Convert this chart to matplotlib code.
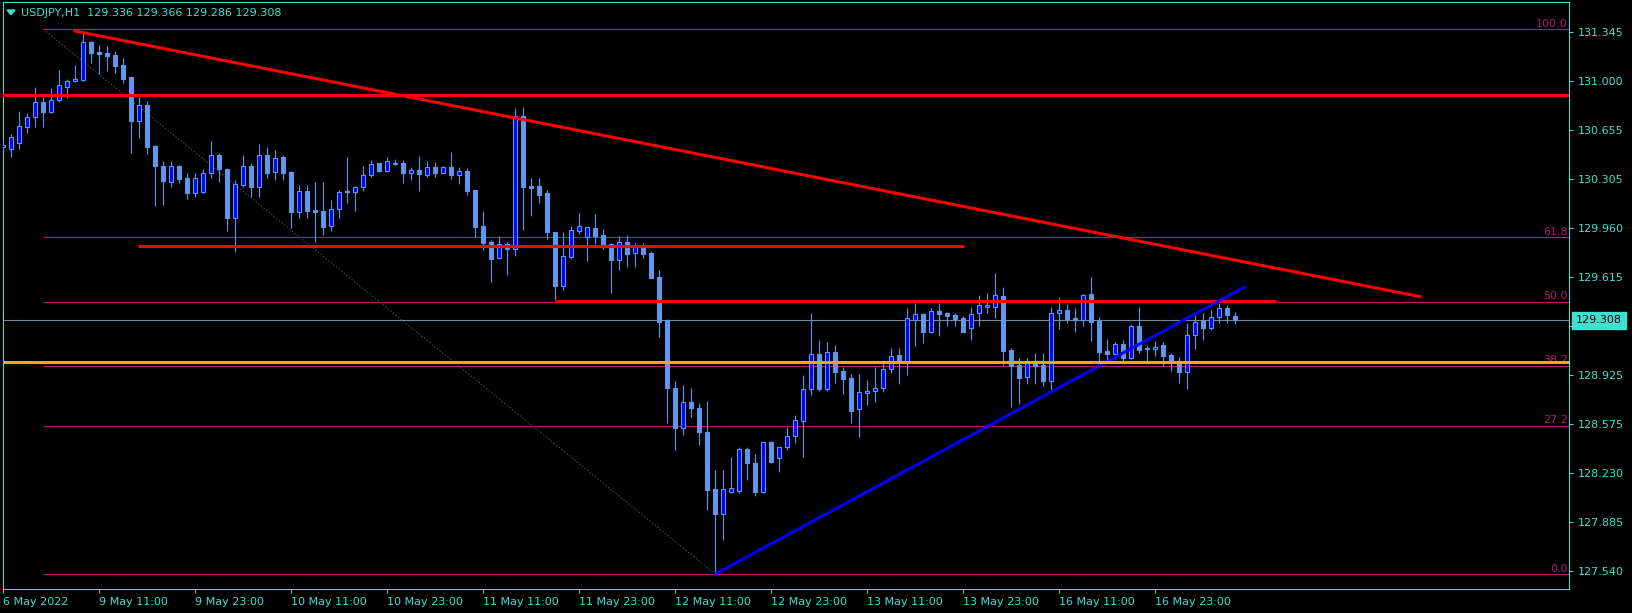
import matplotlib
matplotlib.use("Agg")
import matplotlib.pyplot as plt
import matplotlib.transforms as mtransforms
from matplotlib.patches import Polygon
import numpy as np

# ---------------- data (USDJPY H1) ----------------
opens = [130.531,130.517,130.559,130.676,130.743,130.849,130.782,130.865,130.959,130.999,
         131.006,131.274,131.206,131.199,131.183,131.112,131.027,130.719,130.827,130.542,
         130.400,130.288,130.399,130.316,130.210,130.217,130.351,130.479,130.378,130.034,
         130.265,130.400,130.253,130.474,130.354,130.465,130.358,130.076,130.222,130.088,
         130.081,129.977,130.093,130.222,130.217,130.248,130.335,130.418,130.366,130.422,
         130.420,130.351,130.371,130.337,130.392,130.351,130.392,130.337,130.363,130.229,
         129.975,129.862,129.751,129.848,129.810,130.752,130.260,130.260,130.210,129.933,
         129.551,129.754,129.942,129.897,129.961,129.911,129.848,129.735,129.862,129.782,
         129.834,129.784,129.615,129.311,128.833,128.546,128.734,128.688,128.522,128.118,
         127.944,128.099,128.106,128.398,128.299,128.099,128.448,128.335,128.417,128.492,
         128.600,128.822,129.069,128.826,129.083,128.951,128.902,128.681,128.798,128.808,
         128.833,128.963,129.064,129.010,129.311,129.354,129.229,129.373,129.361,129.344,
         129.325,129.257,129.363,129.405,129.405,129.479,129.099,128.991,128.907,129.020,
         128.991,128.882,129.359,129.380,129.325,129.311,129.493,129.306,129.092,129.073,
         129.142,129.045,129.267,129.113,129.109,129.135,129.064,129.020,128.946,129.203,
         129.306,129.253,129.335,129.394,129.336]
highs = [130.582,130.624,130.787,130.773,130.954,130.888,130.947,131.077,131.013,131.112,
         131.345,131.281,131.253,131.248,131.211,131.159,131.030,130.895,130.858,130.545,
         130.434,130.434,130.408,130.347,130.347,130.375,130.573,130.488,130.385,130.300,
         130.476,130.422,130.554,130.535,130.512,130.474,130.365,130.265,130.265,130.288,
         130.288,130.159,130.229,130.465,130.258,130.401,130.441,130.422,130.465,130.448,
         130.441,130.392,130.469,130.434,130.427,130.399,130.498,130.392,130.385,130.229,
         130.081,129.876,129.904,129.862,130.810,130.817,130.316,130.316,130.231,129.933,
         129.933,129.975,130.067,129.970,130.060,129.954,129.855,129.904,129.911,129.855,
         129.855,129.799,129.664,129.318,128.881,128.852,128.829,128.723,128.739,128.252,
         128.252,128.346,128.417,128.417,128.365,128.452,128.459,128.417,128.558,128.640,
         128.923,129.359,129.170,129.156,129.135,128.981,128.930,128.930,128.888,128.981,
         129.005,129.111,129.111,129.398,129.429,129.361,129.398,129.433,129.370,129.359,
         129.342,129.405,129.486,129.500,129.643,129.542,129.111,129.041,129.041,129.077,
         129.077,129.401,129.472,129.422,129.394,129.495,129.613,129.330,129.175,129.158,
         129.170,129.283,129.401,129.135,129.161,129.158,129.080,129.048,129.288,129.347,
         129.359,129.382,129.429,129.415,129.366]
lows = [130.512,130.465,130.517,130.634,130.676,130.676,130.775,130.853,130.881,130.992,
        130.999,131.124,131.048,131.072,131.058,130.983,130.488,130.594,130.483,130.116,
        130.123,130.253,130.281,130.164,130.178,130.210,130.312,130.288,129.942,129.793,
        130.253,130.182,130.182,130.312,130.300,130.300,129.963,130.034,130.034,129.864,
        129.914,129.942,130.034,130.140,130.081,130.224,130.323,130.354,130.354,130.406,
        130.281,130.300,130.224,130.323,130.323,130.342,130.307,130.274,130.194,129.899,
        129.806,129.582,129.740,129.629,129.763,129.947,130.046,130.140,129.885,129.452,
        129.523,129.742,129.918,129.728,129.848,129.813,129.504,129.664,129.688,129.688,
        129.749,129.608,129.193,128.586,128.393,128.499,128.628,128.428,127.969,127.517,
        127.758,128.090,128.091,128.181,128.069,128.091,128.299,128.240,128.393,128.440,
        128.346,128.782,128.810,128.812,128.868,128.789,128.586,128.487,128.711,128.734,
        128.805,128.935,128.859,128.923,129.128,129.147,129.217,129.198,129.269,129.269,
        129.226,129.170,129.269,129.359,129.325,128.994,128.699,128.718,128.859,128.859,
        128.845,128.817,129.246,129.288,129.229,129.269,129.165,129.005,129.005,129.034,
        129.017,129.034,129.080,129.005,129.057,128.989,128.953,128.864,128.824,129.104,
        129.170,129.241,129.292,129.292,129.286]
closes = [130.547,130.605,130.681,130.743,130.849,130.782,130.865,130.971,130.999,131.013,
          131.274,131.199,131.192,131.178,131.107,131.013,130.719,130.827,130.535,130.400,
          130.293,130.399,130.307,130.210,130.312,130.351,130.474,130.380,130.034,130.269,
          130.400,130.253,130.474,130.351,130.453,130.351,130.076,130.222,130.083,130.076,
          129.970,130.093,130.217,130.213,130.248,130.335,130.413,130.366,130.432,130.411,
          130.351,130.371,130.342,130.392,130.351,130.392,130.335,130.363,130.222,129.970,
          129.853,129.742,129.848,129.815,130.752,130.253,130.246,130.194,129.933,129.551,
          129.763,129.947,129.975,129.968,129.904,129.841,129.735,129.862,129.780,129.834,
          129.780,129.610,129.299,128.833,128.546,128.734,128.688,128.522,128.111,127.944,
          128.118,128.123,128.398,128.299,128.099,128.448,128.311,128.412,128.492,128.605,
          128.822,129.069,128.826,129.083,128.946,128.897,128.671,128.801,128.810,128.833,
          128.963,129.057,129.005,129.323,129.354,129.229,129.373,129.354,129.339,129.318,
          129.226,129.351,129.415,129.417,129.486,129.094,128.989,128.904,129.012,128.989,
          128.882,129.359,129.380,129.320,129.311,129.486,129.299,129.087,129.073,129.140,
          129.045,129.267,129.099,129.104,129.121,129.057,129.012,128.946,129.203,129.295,
          129.253,129.335,129.394,129.344,129.308]

time_labels = ["6 May 2022", "9 May 11:00", "9 May 23:00", "10 May 11:00", "10 May 23:00",
               "11 May 11:00", "11 May 23:00", "12 May 11:00", "12 May 23:00", "13 May 11:00",
               "13 May 23:00", "16 May 11:00", "16 May 23:00"]
time_label_bars = [0, 12, 24, 36, 48, 60, 72, 84, 96, 108, 120, 132, 144]
price_ticks = [131.345, 131.000, 130.655, 130.305, 129.960, 129.615, 129.270,
               128.925, 128.575, 128.230, 127.885, 127.540]

fib_levels = [100.0, 61.8, 50.0, 38.2, 27.2, 0.0]
fib_high = 131.364
fib_low = 127.517
last_price = 129.308
header = "USDJPY,H1  129.336 129.366 129.286 129.308"

# drawn objects (bar index, price)
red_trend = ([8.96, 177.1], [131.352, 129.476])
blue_trend = ([89.0, 155.1], [127.517, 129.542])
red_hline_top = 130.898
red_hline_mid = ([16.9, 120.1], 129.832)
red_hline_low = ([69.0, 159.1], 129.443)
orange_hline = 129.012
fib_start_bar = 5.0
fib_low_bar = 89.0

# ---------------- styling ----------------
CYAN = "#40E0D0"
CORN = "#6495ED"
FIBC = "#B4187A"
W, H = 1633, 613

fig = plt.figure(figsize=(W / 100, H / 100), dpi=100, facecolor="black")
ax = fig.add_axes([2.7 / W, (H - 589.3) / H, (1569.3 - 2.7) / W, (589.3 - 2.3) / H])
ax.set_facecolor("black")
ax.set_xlim(-0.075, 195.75)
ax.set_ylim(127.409, 131.555)

o = np.array(opens); h = np.array(highs); l = np.array(lows); c = np.array(closes)
x = np.arange(len(o))
up = c >= o
dn = ~up

# fib retracement
fib_prices = [fib_low + (fib_high - fib_low) * f / 100.0 for f in fib_levels]
ax.hlines(fib_prices, fib_start_bar, 195.75, colors=FIBC, lw=0.8, zorder=1)
for f, p in zip(fib_levels, fib_prices):
    ax.annotate(f"{f:.1f}", xy=(195.55, p), xytext=(0, 1.8), textcoords="offset points",
                ha="right", va="baseline", color=FIBC, fontsize=8, zorder=1.5)
ax.plot([fib_start_bar, fib_low_bar], [fib_high, fib_low], color="#2F4F4F",
        lw=0.8, ls=(0, (1.5, 1.5)), zorder=1)

# bid line
ax.axhline(last_price, color="#778899", lw=0.8, zorder=1.2)

# candles
ax.vlines(x, l, h, colors=CORN, lw=0.8, zorder=3)
ax.bar(x[up], (c - o)[up], bottom=o[up], width=0.5, color="#0000FF",
       edgecolor=CORN, lw=0.8, zorder=4)
ax.bar(x[dn], (o - c)[dn], bottom=c[dn], width=0.5, color=CORN,
       edgecolor=CORN, lw=0.8, zorder=4)

# drawn lines
ax.axhline(red_hline_top, color="#FF0000", lw=2.2, zorder=6)
ax.plot(red_hline_mid[0], [red_hline_mid[1]] * 2, color="#FF0000", lw=2.2, zorder=6,
        solid_capstyle="butt")
ax.plot(red_hline_low[0], [red_hline_low[1]] * 2, color="#FF0000", lw=2.2, zorder=6,
        solid_capstyle="butt")
ax.plot(red_trend[0], red_trend[1], color="#FF0000", lw=2.2, zorder=6)
ax.plot(blue_trend[0], blue_trend[1], color="#0000FF", lw=2.2, zorder=6)
ax.axhline(orange_hline, color="#FFA500", lw=2.2, zorder=6)

# axes styling
for s in ax.spines.values():
    s.set_color(CYAN)
    s.set_linewidth(0.8)
ax.yaxis.tick_right()
ax.set_yticks(price_ticks)
ax.set_yticklabels([f"{p:.3f}" for p in price_ticks])
ax.tick_params(axis="y", colors=CYAN, length=3, width=0.8, pad=3, labelsize=8)
ax.set_xticks(time_label_bars)
ax.set_xticklabels(time_labels, ha="left")
ax.tick_params(axis="x", colors=CYAN, length=3, width=0.8, pad=2.5, labelsize=8)
for t in ax.get_xticklabels():
    t.set_horizontalalignment("left")

# last price box
trans = mtransforms.blended_transform_factory(ax.transAxes, ax.transData)
ax.annotate(f"{last_price:.3f}", xy=(1.0, last_price), xycoords=trans, xytext=(4.8, 0),
            textcoords="offset points", ha="left", va="center", fontsize=8, color="black",
            bbox=dict(boxstyle="square,pad=0.32", fc=CYAN, ec=CYAN), zorder=20,
            annotation_clip=False)

# header
fig.text(21 / W, 1 - 12.7 / H, header, color=CYAN, fontsize=8, ha="left", va="center")
tri = Polygon([[7 / W, 1 - 10 / H], [15 / W, 1 - 10 / H], [11 / W, 1 - 14.7 / H]],
              closed=True, transform=fig.transFigure, color=CYAN)
fig.add_artist(tri)

fig.savefig("out.png", dpi=100, facecolor="black")
